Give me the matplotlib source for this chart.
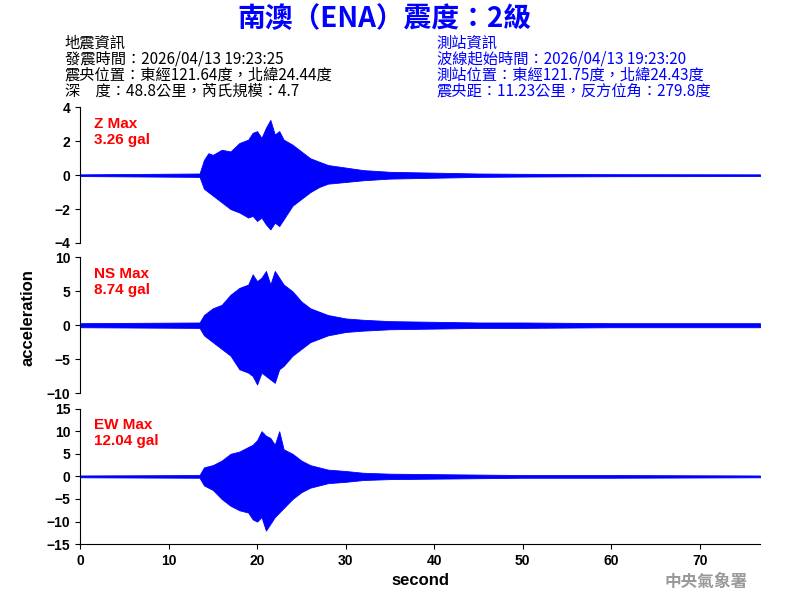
import matplotlib
matplotlib.use("Agg")
import matplotlib.pyplot as plt

plt.rcParams['font.family'] = ['Noto Sans CJK TC', 'DejaVu Sans']

# envelope of each trace (seconds, gal)
z_t = [0, 13.5, 14, 14.5, 15, 16, 17, 18, 19, 19.5, 20, 20.5, 21, 21.5, 22, 22.5, 23, 24, 25, 26, 27, 28, 30, 32, 35, 40, 45, 50, 60, 76.8]
z_up = [0.05, 0.1, 0.9, 1.3, 1.2, 1.5, 1.4, 1.9, 2.1, 2.5, 2.6, 2.2, 2.8, 3.26, 2.4, 2.6, 2.1, 1.8, 1.4, 1.0, 0.8, 0.6, 0.45, 0.3, 0.2, 0.15, 0.1, 0.08, 0.06, 0.05]
z_lo = [-0.05, -0.1, -0.8, -1.0, -1.2, -1.6, -2.0, -2.2, -2.5, -2.4, -2.7, -2.5, -2.9, -3.2, -2.8, -3.0, -2.6, -1.8, -1.4, -1.0, -0.7, -0.5, -0.4, -0.3, -0.2, -0.15, -0.1, -0.08, -0.06, -0.05]

ns_t = [0, 13.5, 14, 15, 16, 17, 18, 19, 19.5, 20, 20.5, 21, 21.5, 22, 22.5, 23, 24, 25, 26, 27, 28, 30, 32, 35, 40, 45, 50, 60, 76.8]
ns_up = [0.3, 0.4, 1.5, 2.5, 3.0, 4.5, 5.5, 6.0, 7.5, 6.5, 7.0, 8.0, 6.0, 8.0, 7.0, 6.0, 5.0, 3.5, 2.5, 2.0, 1.5, 1.0, 0.8, 0.6, 0.5, 0.4, 0.4, 0.3, 0.3]
ns_lo = [-0.3, -0.4, -1.5, -2.5, -3.5, -4.5, -6.5, -7.0, -7.5, -8.74, -7.0, -7.5, -8.0, -8.5, -6.5, -6.0, -4.5, -3.5, -2.5, -2.0, -1.5, -1.0, -0.8, -0.6, -0.5, -0.4, -0.4, -0.3, -0.3]

ew_t = [0, 13.5, 14, 15, 16, 17, 18, 19, 19.5, 20, 20.5, 21, 21.5, 22, 22.5, 23, 24, 25, 26, 27, 28, 30, 32, 35, 40, 45, 50, 60, 76.8]
ew_up = [0.2, 0.3, 2.0, 2.5, 3.5, 5.0, 5.5, 6.5, 7.0, 8.0, 10.0, 9.0, 8.5, 7.0, 10.0, 6.0, 5.0, 3.5, 2.5, 2.0, 1.5, 1.2, 0.8, 0.6, 0.5, 0.4, 0.3, 0.3, 0.2]
ew_lo = [-0.2, -0.3, -2.0, -3.0, -5.0, -6.5, -7.5, -8.0, -9.5, -10.0, -9.0, -12.0, -10.5, -9.0, -8.0, -7.0, -5.0, -3.5, -2.5, -2.0, -1.5, -1.2, -0.8, -0.6, -0.5, -0.4, -0.3, -0.3, -0.2]

traces = [(z_t, z_up, z_lo, 4, [-4, -2, 0, 2, 4], "Z Max\n3.26 gal"),
          (ns_t, ns_up, ns_lo, 10, [-10, -5, 0, 5, 10], "NS Max\n8.74 gal"),
          (ew_t, ew_up, ew_lo, 15, [-15, -10, -5, 0, 5, 10, 15], "EW Max\n12.04 gal")]

sans = ['Liberation Sans']

fig = plt.figure(figsize=(8, 6), dpi=100)
bottoms = [0.595, 0.345, 0.093]
for i, (t, up, lo, lim, ticks, label) in enumerate(traces):
    ax = fig.add_axes([0.1, bottoms[i], 0.85, 0.226])
    ax.fill_between(t, lo, up, color="blue", linewidth=0.6, edgecolor="blue")
    ax.axhline(0, color="blue", linewidth=0.8)
    ax.set_xlim(0, 76.8)
    ax.set_ylim(-lim, lim)
    ax.set_yticks(ticks)
    ax.spines['top'].set_visible(False)
    ax.spines['right'].set_visible(False)
    ax.tick_params(labelsize=10)
    for lab in ax.get_yticklabels() + ax.get_xticklabels():
        lab.set_family(sans)
        lab.set_fontweight("bold")
    ax.text(0.02, 0.93, label, transform=ax.transAxes, color="red", fontsize=11, va="top",
            family=sans, fontweight="bold")
    if i < 2:
        ax.spines['bottom'].set_visible(False)
        ax.set_xticks([])
    else:
        ax.set_xticks(range(0, 80, 10))
        for lab in ax.get_xticklabels():
            lab.set_family(sans)
            lab.set_fontweight("bold")
        ax.set_xlabel("second", fontsize=12, family=sans, fontweight="bold")

fig.text(0.035, 0.47, "acceleration", rotation=90, ha="center", va="center", fontsize=12,
         family=sans, fontweight="bold")
fig.text(0.48, 0.968, "南澳（ENA）震度：2級", ha="center", va="center", color="blue",
         fontsize=20, fontweight="bold")

left = ["地震資訊", "發震時間：2026/04/13 19:23:25", "震央位置：東經121.64度，北緯24.44度",
        "深　度：48.8公里，芮氏規模：4.7"]
right = ["測站資訊", "波線起始時間：2026/04/13 19:23:20", "測站位置：東經121.75度，北緯24.43度",
         "震央距：11.23公里，反方位角：279.8度"]
for k, (a, b) in enumerate(zip(left, right)):
    y = 0.928 - k * 0.0267
    fig.text(0.081, y, a, fontsize=11, va="center")
    fig.text(0.546, y, b, fontsize=11, va="center", color="blue")

fig.text(0.935, 0.03, "中央氣象署", ha="right", va="center", color="#999999", fontsize=12,
         fontweight="bold")

fig.savefig("out.png", dpi=100)
